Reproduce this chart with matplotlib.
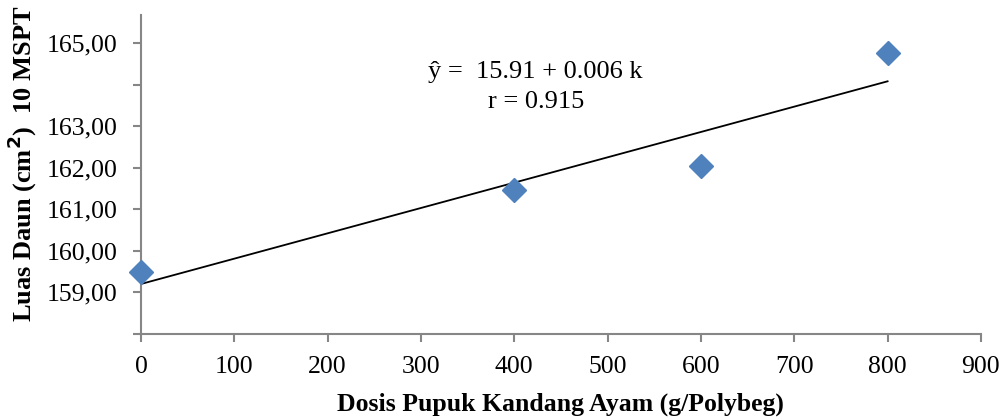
import numpy as np
import matplotlib
matplotlib.use("Agg")
import matplotlib.pyplot as plt

# Data
dosis = [0, 400, 600, 800]
luas_daun = [159.49, 161.47, 162.05, 164.77]
x_ticks = [0, 100, 200, 300, 400, 500, 600, 700, 800, 900]
y_ticks = [158, 159, 160, 161, 162, 163, 164, 165]
y_tick_labels = ["", "159,00", "160,00", "161,00", "162,00", "163,00", "", "165,00"]

plt.rcParams['font.family'] = ['Liberation Serif', 'DejaVu Serif']

fig = plt.figure(figsize=(10.04, 4.2), dpi=100)
ax = fig.add_axes([0.1404, 0.2048, 0.977 - 0.1404, 0.964 - 0.2048])

# Trend line (least-squares fit of the points)
slope, intercept = np.polyfit(dosis, luas_daun, 1)
xs = np.array([min(dosis), max(dosis)])
ax.plot(xs, intercept + slope * xs, color='black', lw=1.3, zorder=2)

ax.plot(dosis, luas_daun, linestyle='none', marker='D', markersize=12,
        color='#4F81BD', markeredgecolor='#4F81BD', zorder=3, clip_on=False)

ax.set_xlim(0, 900)
ax.set_ylim(158, 165.67)
ax.set_xticks(x_ticks)
ax.set_yticks(y_ticks)
ax.set_yticklabels(y_tick_labels)

for s in ['top', 'right']:
    ax.spines[s].set_visible(False)
for s in ['left', 'bottom']:
    ax.spines[s].set_color('#868686')
    ax.spines[s].set_linewidth(1.5)
ax.tick_params(axis='both', direction='out', length=6, width=1.5, color='#868686',
               labelsize=18.5, labelcolor='black')
ax.tick_params(axis='y', pad=11)
ax.tick_params(axis='x', pad=10)

ax.set_xlabel('Dosis Pupuk Kandang Ayam (g/Polybeg)', fontsize=18.5, fontweight='bold',
              labelpad=10)
fig.text(0.022, 0.61, 'Luas Daun (cm$^\\mathbf{2}$)  10 MSPT', rotation=90, fontsize=19,
         fontweight='bold', ha='center', va='center')

ax.text(0.470, 0.821, '\u0177 =  15.91 + 0.006 k', transform=ax.transAxes, ha='center',
        va='center', fontsize=19)
ax.text(0.470, 0.727, 'r = 0.915', transform=ax.transAxes, ha='center', va='center',
        fontsize=19)

fig.savefig('out.png', dpi=100)
